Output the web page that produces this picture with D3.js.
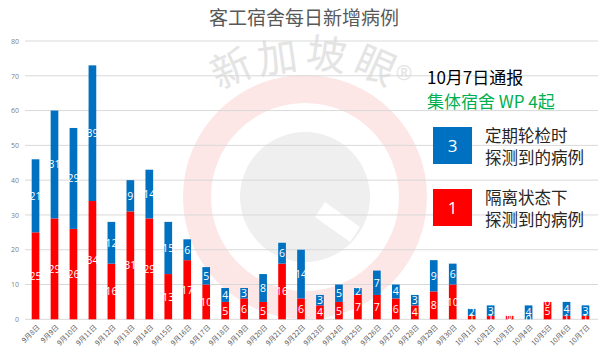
<!DOCTYPE html>
<html><head><meta charset="utf-8">
<script src="https://cdn.jsdelivr.net/npm/d3@7/dist/d3.min.js"></script>
<style>
body{margin:0;background:#fff;}
svg{display:block;font-family:"Noto Sans","Noto Sans CJK SC",sans-serif;}
</style></head>
<body><svg id="c" width="601" height="358"></svg>
<script>
const dates = ["9月8日","9月9日","9月10日","9月11日","9月12日","9月13日","9月14日","9月15日","9月16日","9月17日","9月18日","9月19日","9月20日","9月21日","9月22日","9月23日","9月24日","9月25日","9月26日","9月27日","9月28日","9月29日","9月30日","10月1日","10月2日","10月3日","10月4日","10月5日","10月6日","10月7日"];
const isolation = [25,29,26,34,16,31,29,13,17,10,5,6,5,16,6,4,5,7,7,6,4,8,10,1,1,1,0,5,1,1];
const routine   = [21,31,29,39,12,9,14,15,6,5,4,3,8,6,14,3,5,2,7,4,3,9,6,2,3,0,4,0,4,3];
const yTicks = [0,10,20,30,40,50,60,70,80];
const title = "客工宿舍每日新增病例";
const watermark = ["新","加","坡","眼"];

const svg = d3.select("#c");
const W = 601, H = 358;
const x = d3.scaleBand().domain(dates).range([26,595]).paddingInner(0.595).paddingOuter(0.3);
const y = d3.scaleLinear().domain([0,80]).range([319.3,41]);

// watermark logo
const wm = svg.append("g");
const cx = 305, cy = 197;
wm.append("circle").attr("cx",cx).attr("cy",cy).attr("r",108).attr("fill","none").attr("stroke","#fce6e6").attr("stroke-width",28);
wm.append("circle").attr("cx",cx).attr("cy",cy).attr("r",65).attr("fill","#efefef");
wm.append("path").attr("d",`M${cx+20},${cy+5} L${cx+55},${cy+30} L${cx+45},${cy+45} L${cx+10},${cy+20} Z`).attr("fill","#ffffff");
const wpos = [[230,66,-24],[277,55,-8],[327,52,8],[377,63,24]];
watermark.forEach((c,i)=>{
  wm.append("text").attr("transform",`translate(${wpos[i][0]},${wpos[i][1]}) rotate(${wpos[i][2]})`)
    .attr("text-anchor","middle").attr("dominant-baseline","central")
    .attr("font-size",40).attr("fill","#e4e4e4").attr("font-family","Noto Sans CJK SC").text(c);
});
wm.append("text").attr("x",404).attr("y",72).attr("text-anchor","middle").attr("dominant-baseline","central")
  .attr("font-size",20).attr("fill","#e4e4e4").text("®");

// grid
svg.append("g").selectAll("line").data(yTicks).join("line")
  .attr("x1",25).attr("x2",598).attr("y1",d=>y(d)).attr("y2",d=>y(d))
  .attr("stroke","#d9d9d9").attr("stroke-width",1);

// y axis labels
const yAxis = d3.axisLeft(y).tickValues(yTicks).tickSize(0).tickPadding(0);
const ya = svg.append("g").attr("transform","translate(19,0)").call(yAxis);
ya.select(".domain").remove();
ya.selectAll("text").attr("font-size",7).attr("fill","#7f7f7f").attr("font-family","Open Sans");

// x axis labels
const xAxis = d3.axisBottom(x).tickSize(0).tickPadding(0);
const xa = svg.append("g").attr("transform","translate(0,326)").call(xAxis);
xa.select(".domain").remove();
xa.selectAll("text").attr("font-size",7).attr("fill","#595959")
  .attr("text-anchor","end").attr("dy","0.35em").attr("dx","0")
  .attr("transform","rotate(-45)").attr("y",0).attr("x",0)
  .attr("font-family","Noto Sans CJK SC");
xa.selectAll(".tick").attr("transform",d=>`translate(${x(d)+x.bandwidth()/2+3},0)`);

// bars
const bw = x.bandwidth();
const g = svg.append("g");
g.selectAll(".r").data(dates).join("rect").attr("class","r")
  .attr("x",d=>x(d)).attr("width",bw)
  .attr("y",(d,i)=>y(isolation[i])).attr("height",(d,i)=>y(0)-y(isolation[i]))
  .attr("fill","#ff0000");
g.selectAll(".b").data(dates).join("rect").attr("class","b")
  .attr("x",d=>x(d)).attr("width",bw)
  .attr("y",(d,i)=>y(isolation[i]+routine[i])).attr("height",(d,i)=>y(isolation[i])-y(isolation[i]+routine[i]))
  .attr("fill","#0070c0");
g.selectAll(".rl").data(dates).join("text").attr("class","rl")
  .attr("x",d=>x(d)+bw/2).attr("y",(d,i)=>y(isolation[i]/2))
  .attr("text-anchor","middle").attr("dominant-baseline","central")
  .attr("font-size",10.5).attr("fill","#fff").attr("font-family","Open Sans")
  .text((d,i)=>isolation[i]);
g.selectAll(".bl").data(dates).join("text").attr("class","bl")
  .attr("x",d=>x(d)+bw/2).attr("y",(d,i)=>y(isolation[i]+routine[i]/2))
  .attr("text-anchor","middle").attr("dominant-baseline","central")
  .attr("font-size",10.5).attr("fill","#fff").attr("font-family","Open Sans")
  .text((d,i)=>routine[i]);

// title
svg.append("text").attr("x",304).attr("y",16).attr("text-anchor","middle").attr("dominant-baseline","central")
  .attr("font-size",19).attr("fill","#595959").attr("font-family","Noto Sans CJK SC").text(title);

// annotation box
const cjk = "Noto Sans CJK SC";
svg.append("text").attr("x",427).attr("y",76).attr("dominant-baseline","central")
  .attr("font-size",17).attr("fill","#000").attr("font-family",cjk).text("10月7日通报");
svg.append("text").attr("x",427).attr("y",100).attr("dominant-baseline","central")
  .attr("font-size",17).attr("fill","#00b050").attr("font-family",cjk).text("集体宿舍 WP 4起");
const leg = [
  {c:"#0070c0", v:routine[routine.length-1], y:127, l:["定期轮检时","探测到的病例"]},
  {c:"#ff0000", v:isolation[isolation.length-1], y:189, l:["隔离状态下","探测到的病例"]}
];
leg.forEach(o=>{
  svg.append("rect").attr("x",433).attr("y",o.y).attr("width",39).attr("height",37).attr("fill",o.c);
  svg.append("text").attr("x",452.5).attr("y",o.y+18.5).attr("text-anchor","middle").attr("dominant-baseline","central")
    .attr("font-size",17).attr("fill","#fff").attr("font-family","Open Sans").text(o.v);
  o.l.forEach((t,j)=>{
    svg.append("text").attr("x",485).attr("y",o.y+8+j*22).attr("dominant-baseline","central")
      .attr("font-size",16.5).attr("fill","#262626").attr("font-family",cjk).text(t);
  });
});
</script></body></html>
